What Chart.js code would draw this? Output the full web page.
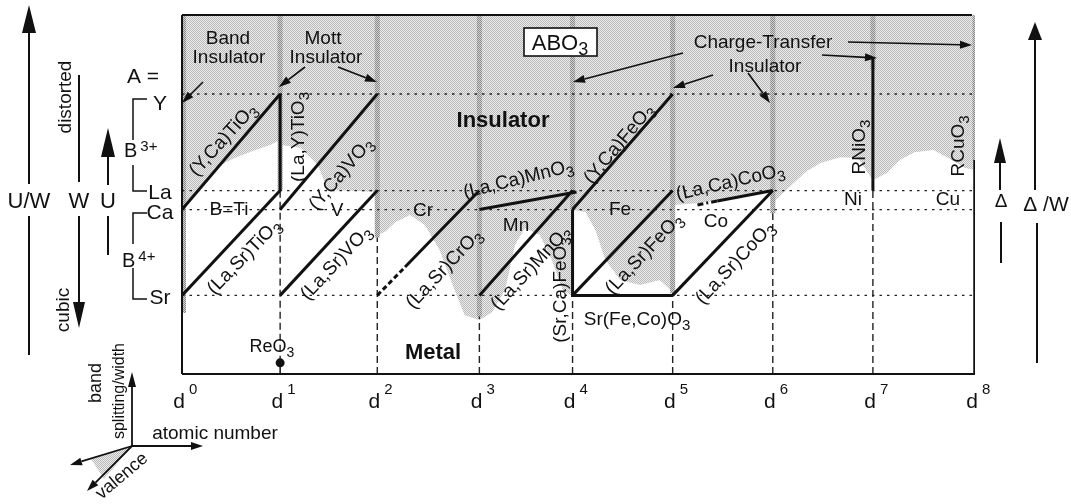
<!DOCTYPE html>
<html><head><meta charset="utf-8">
<script src="https://cdn.jsdelivr.net/npm/chart.js@4.4.0/dist/chart.umd.min.js"></script>
<style>html,body{margin:0;padding:0;background:#fff;}canvas{display:block;}</style>
</head><body>
<canvas id="c" width="1071" height="504"></canvas>
<script>
// ---------- data ----------
const dTicks = [0, 0.99, 1.97, 3.0, 3.94, 4.95, 5.96, 6.97, 8];
const dTickLabels = ['0','1','2','3','4','5','6','7','8'];
const levelNames = ['Y','La','Ca','Sr'];
const levelValues = [78.0, 51.1, 45.8, 21.9];

const ycaTiO3 = [[0, 45.8],[0.99, 78.0]];
const lasrTiO3 = [[0, 21.9],[0.99, 51.1]];
const layTiO3 = [[0.99, 51.1],[0.99, 78.0]];
const ycaVO3 = [[0.99, 45.8],[1.97, 78.0]];
const lasrVO3 = [[0.99, 21.9],[1.97, 51.1]];
const lasrCrO3Dashed = [[1.97, 21.9],[2.25, 29.8]];
const lasrCrO3 = [[2.25, 29.8],[3.0, 51.1]];
const lacaMnO3 = [[3.0, 45.8],[3.98, 50.7]];
const lasrMnO3 = [[3.0, 21.9],[3.94, 51.1]];
const ycaFeO3 = [[3.94, 45.8],[4.95, 78.0]];
const srcaFeO3SrFeCoO3 = [[3.94, 45.8],[3.94, 21.9],[4.95, 21.9]];
const lasrFeO3 = [[3.94, 21.9],[4.95, 51.1]];
const lacaCoO3Dashed = [[5.2, 47.1],[5.4, 48.2]];
const lacaCoO3 = [[5.4, 48.2],[5.96, 51.1]];
const lasrCoO3 = [[4.95, 21.9],[5.96, 51.1]];
const rNiO3 = [[6.97, 51.1],[6.97, 88.0]];
const rCuO3 = [[8, 0],[8, 59.6]];
const reO3 = [[0.99, 3.1]];

const insulatorEdgeX = [0,0.18,0.33,0.53,0.74,0.89,0.99,1.0,1.19,1.37,1.47,1.97,1.97,2.05,2.15,2.30,2.45,2.60,2.75,2.85,3.0,3.13,3.26,3.36,3.46,3.61,3.73,3.84,3.93,3.94,4.07,4.17,4.27,4.42,4.62,4.82,4.95,4.96,5.23,5.63,5.96,5.96,5.99,6.13,6.29,6.44,6.64,6.82,6.90,6.97,7.11,7.24,7.39,7.58,7.73,7.90,8.0];
const insulatorEdgeY = [46.2,51.8,57.4,60.2,62.4,63.8,65.2,63.8,63.0,58.2,51.3,50.7,38.7,39.6,42.3,44.3,41.5,34.5,23.4,16.4,15.0,17.3,23.4,35.9,40.7,38.7,31.8,23.4,21.7,45.7,45.1,40.1,31.8,26.2,24.8,26.2,22.8,47.1,47.6,49.3,51.0,44.8,48.5,52.1,56.3,58.8,60.4,60.2,56.8,54.0,56.0,59.6,61.8,62.4,60.2,57.4,56.8];

const stripeBottom = [17, 51.1, 38, 16, 45.8, 22.5, 44.8, 84.7, 59.6];
const dashedTop = [null, 51.1, 38, 16, 21.9, 22.5, 44.8, 51.1, null];

// ---------- styling helpers ----------
const FF = '"Liberation Sans", Arial, Helvetica, sans-serif';
function makePattern(c1, c2) {
  const cv = document.createElement('canvas'); cv.width = 2; cv.height = 2;
  const g = cv.getContext('2d');
  g.fillStyle = c2; g.fillRect(0,0,2,2);
  g.fillStyle = c1; g.fillRect(0,0,1,1); g.fillRect(1,1,1,1);
  return g.createPattern(cv, 'repeat');
}
const greyFill = makePattern('#b9b9b9', '#ececec');
const stripeFill = makePattern('#858585', '#d6d6d6');
const pts = a => a.map(p => ({x: p[0], y: p[1]}));
function seg(a, o) {
  return Object.assign({data: pts(a), borderColor: '#111', borderWidth: 3, pointRadius: 0,
    fill: false, tension: 0, order: 10, borderCapStyle: 'butt', borderJoinStyle: 'miter'}, o || {});
}

const datasets = [];
// insulator region
datasets.push({data: insulatorEdgeX.map((x, i) => ({x, y: insulatorEdgeY[i]})),
  fill: 'end', backgroundColor: greyFill, borderWidth: 0, borderColor: 'rgba(0,0,0,0)',
  pointRadius: 0, tension: 0, order: 100});
// boundary stripes
dTicks.forEach((x, i) => {
  datasets.push(seg([[x + (i === 0 ? 0.02 : 0), stripeBottom[i]], [x + (i === 0 ? 0.02 : 0), 100]],
    {borderColor: stripeFill, borderWidth: i === 0 ? 4 : 5, order: 90}));
});
// dotted level lines
levelValues.forEach(v => datasets.push(seg([[0, v],[8, v]], {borderWidth: 1.3, borderDash: [2.5, 5], borderColor: '#222', order: 50})));
// dashed d-lines
dTicks.forEach((x, i) => {
  if (dashedTop[i] === null) return;
  const bottom = i === 1 ? reO3[0][1] : 0;
  datasets.push(seg([[x, bottom],[x, dashedTop[i]]], {borderWidth: 1.4, borderDash: [7, 4], borderColor: '#222', order: 40}));
});
// ReO3 stem and point
datasets.push(seg([[reO3[0][0], 0],[reO3[0][0], reO3[0][1]]], {borderWidth: 1.5, order: 12}));
datasets.push({data: pts(reO3), showLine: false, pointRadius: 4.5, pointBackgroundColor: '#111', pointBorderWidth: 0, order: 5});
// compound lines
[ycaTiO3, lasrTiO3, layTiO3, ycaVO3, lasrVO3, lasrCrO3, lacaMnO3, lasrMnO3, ycaFeO3,
 srcaFeO3SrFeCoO3, lasrFeO3, lacaCoO3, lasrCoO3, rNiO3].forEach(a => datasets.push(seg(a)));
datasets.push(seg(rCuO3, {borderWidth: 3.5}));
datasets.push(seg(lasrCrO3Dashed, {borderDash: [5, 3]}));
datasets.push(seg(lacaCoO3Dashed, {borderDash: [6, 3, 2, 3]}));

// ---------- text & decorations ----------
function rich(ctx, txt, x, y, o) {
  o = o || {};
  const size = o.size || 19, angle = o.angle || 0, bold = o.bold ? 'bold ' : '';
  let main = txt, scr = '', type = null;
  if (txt.includes('_')) { [main, scr] = txt.split('_'); type = 'sub'; }
  else if (txt.includes('^')) { [main, scr] = txt.split('^'); type = 'sup'; }
  const ss = o.scrSize || Math.round(size * 0.78);
  ctx.font = bold + size + 'px ' + FF;
  const wm = ctx.measureText(main).width;
  ctx.font = ss + 'px ' + FF;
  const gap = o.gap || 0;
  const ws = scr ? ctx.measureText(scr).width + gap : 0;
  const tot = wm + ws;
  ctx.save();
  ctx.translate(x, y); ctx.rotate(angle * Math.PI / 180);
  ctx.fillStyle = '#111'; ctx.textBaseline = 'alphabetic'; ctx.textAlign = 'left';
  const x0 = o.align === 'left' ? 0 : -tot / 2;
  const y0 = size * 0.36;
  ctx.font = bold + size + 'px ' + FF;
  ctx.fillText(main, x0, y0);
  if (scr) {
    ctx.font = ss + 'px ' + FF;
    const dy = type === 'sub' ? (o.subDrop || size * 0.22) : -(o.supRaise || size * 0.4);
    ctx.fillText(scr, x0 + wm + gap, y0 + dy);
  }
  ctx.restore();
}
function line(ctx, pts, w) {
  ctx.beginPath(); ctx.moveTo(pts[0][0], pts[0][1]);
  for (let i = 1; i < pts.length; i++) ctx.lineTo(pts[i][0], pts[i][1]);
  ctx.lineWidth = w || 1.5; ctx.strokeStyle = '#111'; ctx.stroke();
}
function arrow(ctx, x1, y1, x2, y2, len, hw, w) {
  const a = Math.atan2(y2 - y1, x2 - x1);
  const bx = x2 - len * Math.cos(a), by = y2 - len * Math.sin(a);
  line(ctx, [[x1, y1],[bx, by]], w || 1.5);
  ctx.beginPath();
  ctx.moveTo(x2, y2);
  ctx.lineTo(bx + hw * Math.sin(a), by - hw * Math.cos(a));
  ctx.lineTo(bx - hw * Math.sin(a), by + hw * Math.cos(a));
  ctx.closePath(); ctx.fillStyle = '#111'; ctx.fill();
}

const inPlotLabels = [
  ['Band', 228, 37], ['Insulator', 229, 56], ['Mott', 323, 37], ['Insulator', 326, 56],
  ['Charge-Transfer', 763, 41], ['Insulator', 765, 65],
  ['B=Ti', 229, 208], ['V', 337, 209], ['Cr', 423, 209], ['Mn', 516, 224], ['Fe', 620, 208],
  ['Co', 716, 220], ['Ni', 853, 198], ['Cu', 948, 198],
  ['Sr(Fe,Co)O_3', 637, 318, 0],
  ['(Sr,Ca)FeO_3', 559, 290, -90], ['(La,Y)TiO_3', 297, 137, -90],
  ['(Y,Ca)TiO_3', 222, 139, -48], ['(La,Sr)TiO_3', 243, 256, -46],
  ['(Y,Ca)VO_3', 340, 173, -50], ['(La,Sr)VO_3', 335, 262, -47],
  ['(La,Sr)CrO_3', 443, 268, -47], ['(La,Ca)MnO_3', 518, 178, -14],
  ['(La,Sr)MnO_3', 530, 267, -47], ['(Y,Ca)FeO_3', 618, 143, -50],
  ['(La,Sr)FeO_3', 643, 253, -47], ['(La,Ca)CoO_3', 730, 181, -13],
  ['(La,Sr)CoO_3', 734, 262, -47],
  ['RNiO_3', 858, 147, -90], ['RCuO_3', 957, 146, -90]
];

const decor = {
  id: 'decor',
  afterDatasetsDraw(chart) {
    const ctx = chart.ctx, a = chart.chartArea;
    ctx.save();
    line(ctx, [[a.left, a.top],[a.right - 3, a.top]], 1.8);
    line(ctx, [[a.left, a.top],[a.left, a.bottom]], 2);
    line(ctx, [[a.left, a.bottom],[a.right, a.bottom]], 2);
    ctx.restore();
  },
  afterDraw(chart) {
    const ctx = chart.ctx, xs = chart.scales.x, ys = chart.scales.y;
    ctx.save();
    inPlotLabels.forEach(l => rich(ctx, l[0], l[1], l[2], {angle: l[3] || 0, size: 19, scrSize: 15, subDrop: 5}));
    rich(ctx, 'Insulator', 503, 119, {size: 22, bold: true});
    rich(ctx, 'Metal', 433, 351, {size: 22, bold: true});
    rich(ctx, 'ReO_3', 272, 346, {size: 18, scrSize: 14, subDrop: 5});
    // ABO3 box
    ctx.fillStyle = '#fff'; ctx.fillRect(524, 28, 73, 28);
    ctx.strokeStyle = '#111'; ctx.lineWidth = 1.6; ctx.strokeRect(524, 28, 73, 28);
    rich(ctx, 'ABO_3', 560, 42, {size: 22, scrSize: 18, subDrop: 5});
    // in-plot arrows
    [[203,82,182,103],[305,67,279,87],[338,67,377,82],[683,53,573,82],[713,75,673,88],
     [748,73,770,103],[822,55,877,58],[848,42,972,45]].forEach(p => arrow(ctx, p[0], p[1], p[2], p[3], 12, 4, 1.6));
    // d tick labels
    dTicks.forEach((v, i) => {
      const px = xs.getPixelForValue(v);
      ctx.fillStyle = '#111'; ctx.textBaseline = 'alphabetic'; ctx.textAlign = 'left';
      ctx.font = '21px ' + FF;
      const w = ctx.measureText('d').width;
      ctx.fillText('d', px - w + 3, 408);
      ctx.font = '15px ' + FF;
      ctx.fillText(dTickLabels[i], px + 7, 394);
    });
    // level labels at the left
    const lvlOff = [8, 1, 2, 1];
    levelNames.forEach((n, i) => rich(ctx, n, 160, ys.getPixelForValue(levelValues[i]) + lvlOff[i], {size: 21}));
    rich(ctx, 'A =', 143, 75, {size: 21});
    rich(ctx, 'B^3+', 124, 150, {size: 20, scrSize: 15, supRaise: 6, gap: 3, align: 'left'});
    rich(ctx, 'B^4+', 122, 260, {size: 20, scrSize: 15, supRaise: 6, gap: 3, align: 'left'});
    line(ctx, [[147, 99],[133, 99],[133, 140]], 1.5);
    line(ctx, [[133, 165],[133, 191],[147, 191]], 1.5);
    line(ctx, [[147, 213],[133, 213],[133, 244]], 1.5);
    line(ctx, [[133, 268],[133, 299],[147, 299]], 1.5);
    // big vertical arrows on the left
    arrow(ctx, 29, 184, 29, 5, 28, 7, 2); line(ctx, [[29, 216],[29, 355]], 2);
    rich(ctx, 'U/W', 29, 200, {size: 22});
    line(ctx, [[79, 75],[79, 182]], 2); arrow(ctx, 79, 216, 79, 328, 26, 6, 2);
    rich(ctx, 'W', 79, 200, {size: 22});
    rich(ctx, 'distorted', 64, 97, {size: 19, angle: -90});
    rich(ctx, 'cubic', 62, 310, {size: 19, angle: -90});
    arrow(ctx, 108, 185, 108, 128, 29, 7, 2); line(ctx, [[108, 216],[108, 255]], 2);
    rich(ctx, 'U', 108, 200, {size: 22});
    // right arrows
    arrow(ctx, 1000, 190, 1000, 138, 25, 6, 2); line(ctx, [[1001, 222],[1001, 263]], 2);
    rich(ctx, '\u0394', 1001, 200, {size: 19});
    arrow(ctx, 1035, 190, 1035, 22, 18, 7, 2); line(ctx, [[1037, 223],[1037, 363]], 2);
    rich(ctx, '\u0394 /W', 1046, 203, {size: 21});
    // axes triad
    ctx.beginPath(); ctx.moveTo(132, 446); ctx.lineTo(91, 459); ctx.lineTo(104, 479); ctx.closePath();
    ctx.fillStyle = greyFill; ctx.fill();
    arrow(ctx, 132, 446, 132, 372, 15, 4, 1.8);
    arrow(ctx, 132, 446, 203, 446, 12, 4, 1.8);
    arrow(ctx, 132, 446, 70, 465, 12, 4, 1.8);
    arrow(ctx, 132, 446, 87, 491, 12, 4, 1.8);
    rich(ctx, 'band', 95, 383, {size: 18, angle: -90});
    rich(ctx, 'splitting/width', 118, 391, {size: 16, angle: -90});
    rich(ctx, 'atomic number', 215, 432, {size: 19});
    rich(ctx, 'valence', 121, 475, {size: 18, angle: -40});
    ctx.restore();
  }
};

new Chart(document.getElementById('c'), {
  type: 'line',
  data: {datasets},
  options: {
    responsive: false, animation: false, devicePixelRatio: 1,
    layout: {padding: {left: 182, right: 96, top: 15, bottom: 130}},
    scales: {
      x: {type: 'linear', min: 0, max: 8, display: false},
      y: {type: 'linear', min: 0, max: 100, display: false}
    },
    plugins: {legend: {display: false}, tooltip: {enabled: false}}
  },
  plugins: [decor]
});
</script>
</body></html>
